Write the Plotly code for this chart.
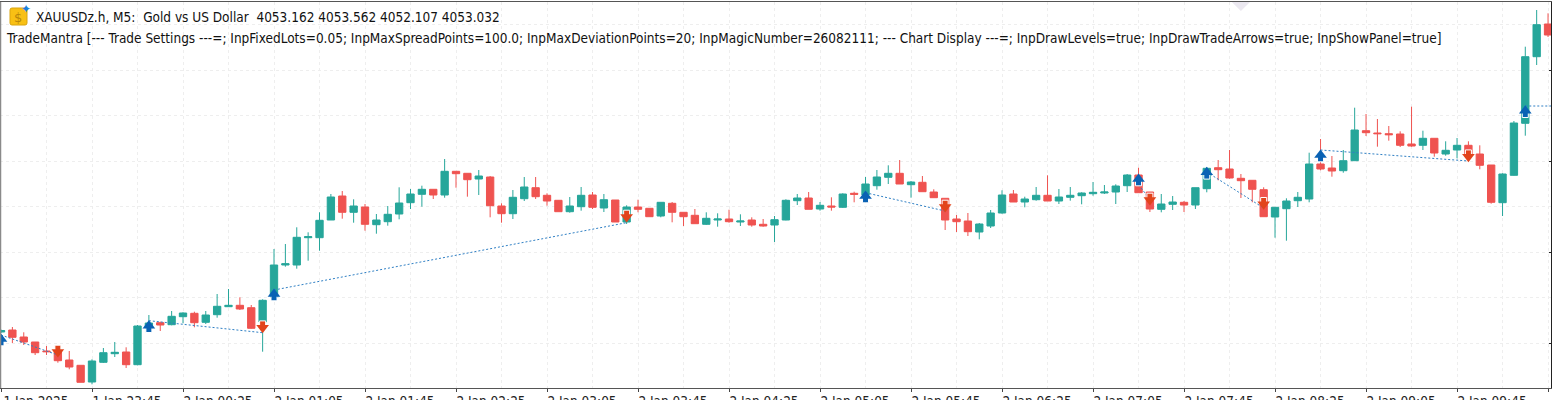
import plotly.graph_objects as go

# chart header text
symbol_line = "XAUUSDz.h, M5:  Gold vs US Dollar  4053.162 4053.562 4052.107 4053.032"
ea_line = ("TradeMantra [--- Trade Settings ---=; InpFixedLots=0.05; InpMaxSpreadPoints=100.0; "
           "InpMaxDeviationPoints=20; InpMagicNumber=26082111; --- Chart Display ---=; "
           "InpDrawLevels=true; InpDrawTradeArrows=true; InpShowPanel=true]")

# M5 candles
opens = [4006.8, 4007.0, 4006.3, 4005.8, 4004.9, 4004.83, 4004.0, 4003.47, 4001.8, 4003.77,
         4004.63, 4004.8, 4003.53, 4007.2, 4007.73, 4007.53, 4008.33, 4008.67, 4007.77, 4008.53,
         4009.33, 4009.47, 4009.23, 4007.8, 4010.3, 4013.5, 4013.5, 4016.23, 4016.23, 4018.0,
         4020.4, 4018.77, 4019.3, 4017.53, 4017.83, 4018.6, 4019.73, 4020.57, 4021.07, 4020.5,
         4022.87, 4022.67, 4022.1, 4022.3, 4019.4, 4018.63, 4020.13, 4021.23, 4020.47, 4019.97,
         4018.83, 4019.33, 4020.5, 4019.2, 4020.0, 4017.8, 4019.3, 4019.17, 4018.4, 4019.67,
         4018.77, 4018.47, 4017.57, 4018.0, 4018.1, 4017.8, 4018.0, 4017.57, 4017.5, 4018.0,
         4019.93, 4020.2, 4019.1, 4019.4, 4019.27, 4020.67, 4020.5, 4021.43, 4022.27, 4022.67,
         4021.53, 4021.77, 4020.8, 4020.17, 4018.1, 4017.9, 4016.8, 4017.4, 4018.7, 4020.6,
         4019.8, 4020.03, 4020.47, 4019.9, 4020.27, 4020.43, 4020.63, 4020.7, 4020.8, 4021.43,
         4022.5, 4020.8, 4019.07, 4019.57, 4019.77, 4019.5, 4021.13, 4023.23, 4023.1, 4022.17,
         4021.97, 4021.03, 4018.3, 4019.13, 4019.93, 4020.1, 4023.6, 4023.2, 4022.93, 4023.93,
         4026.93, 4026.7, 4026.63, 4026.6, 4025.6, 4025.47, 4026.17, 4024.6, 4025.0, 4025.47,
         4024.6, 4023.5, 4019.73, 4022.47, 4027.67, 4034.33, 4037.6]
highs = [4007.05, 4007.3, 4006.77, 4005.8, 4005.4, 4005.3, 4004.9, 4003.47, 4004.07, 4005.2,
         4005.8, 4005.27, 4007.5, 4008.5, 4007.83, 4008.9, 4008.77, 4008.83, 4008.9, 4010.6,
         4011.1, 4010.27, 4009.5, 4010.07, 4015.1, 4015.6, 4017.27, 4016.77, 4018.77, 4020.6,
         4020.9, 4020.07, 4019.6, 4018.6, 4019.4, 4021.27, 4021.1, 4021.43, 4021.07, 4024.1,
         4022.87, 4022.67, 4023.0, 4022.4, 4019.67, 4021.0, 4022.3, 4022.3, 4020.67, 4020.0,
         4020.3, 4021.3, 4020.8, 4020.6, 4020.0, 4019.47, 4020.03, 4019.17, 4019.77, 4019.8,
         4018.77, 4019.1, 4018.77, 4018.67, 4019.03, 4018.57, 4018.27, 4018.1, 4018.4, 4020.07,
         4020.6, 4020.8, 4019.8, 4020.27, 4020.67, 4020.83, 4022.3, 4023.0, 4023.47, 4024.0,
         4021.9, 4022.4, 4021.07, 4020.17, 4018.5, 4018.7, 4017.7, 4019.0, 4020.97, 4021.0,
         4020.33, 4021.3, 4022.47, 4021.1, 4021.3, 4020.77, 4021.8, 4021.5, 4021.57, 4022.6,
         4023.23, 4020.8, 4020.6, 4020.4, 4019.9, 4021.23, 4023.27, 4024.0, 4025.0, 4022.6,
         4021.97, 4021.27, 4019.27, 4020.17, 4020.8, 4024.73, 4026.1, 4024.4, 4025.0, 4029.23,
         4028.6, 4028.1, 4027.4, 4026.87, 4029.33, 4026.93, 4026.17, 4025.87, 4026.2, 4025.87,
         4025.47, 4023.5, 4022.67, 4027.9, 4035.33, 4039.0, 4038.67]
lows = [4006.7, 4005.7, 4005.5, 4004.5, 4004.5, 4003.73, 4003.07, 4001.77, 4001.57, 4003.7,
        4004.3, 4003.2, 4003.47, 4006.9, 4006.9, 4007.47, 4007.67, 4007.27, 4007.6, 4008.23,
        4009.3, 4009.0, 4007.13, 4004.83, 4010.0, 4013.33, 4013.13, 4013.93, 4014.93, 4018.0,
        4018.13, 4017.73, 4016.93, 4016.63, 4017.43, 4018.07, 4019.1, 4019.33, 4020.1, 4020.23,
        4021.23, 4020.33, 4020.5, 4018.27, 4017.73, 4018.1, 4019.9, 4020.1, 4019.43, 4018.83,
        4018.73, 4018.93, 4019.1, 4018.8, 4017.8, 4017.6, 4018.77, 4018.33, 4018.27, 4017.77,
        4017.4, 4017.63, 4017.5, 4017.33, 4017.73, 4017.4, 4017.33, 4017.33, 4015.8, 4017.97,
        4019.5, 4019.07, 4018.93, 4018.93, 4019.2, 4019.77, 4019.7, 4021.03, 4021.6, 4021.6,
        4020.23, 4020.83, 4020.23, 4017.0, 4016.8, 4016.4, 4016.07, 4017.2, 4018.63, 4019.8,
        4019.27, 4019.93, 4019.9, 4019.6, 4019.93, 4019.57, 4020.43, 4020.6, 4019.6, 4020.8,
        4020.73, 4018.8, 4018.77, 4019.0, 4018.8, 4019.1, 4020.77, 4021.97, 4022.13, 4020.2,
        4019.77, 4018.33, 4016.23, 4015.93, 4019.3, 4019.77, 4022.97, 4022.33, 4022.73, 4023.93,
        4026.4, 4025.33, 4025.93, 4025.3, 4025.33, 4025.0, 4024.33, 4024.43, 4024.17, 4024.2,
        4023.07, 4019.63, 4018.4, 4022.43, 4026.43, 4033.5, 4036.3]
closes = [4006.95, 4006.27, 4005.8, 4004.73, 4004.83, 4003.93, 4003.3, 4001.77, 4003.9, 4004.73,
          4004.77, 4003.53, 4007.4, 4007.7, 4007.5, 4008.37, 4008.7, 4007.73, 4008.5, 4009.37,
          4009.47, 4009.1, 4007.17, 4009.97, 4013.5, 4013.63, 4016.27, 4016.33, 4017.97, 4020.3,
          4018.77, 4019.4, 4017.57, 4018.0, 4018.57, 4019.7, 4020.6, 4021.07, 4020.5, 4022.87,
          4022.63, 4022.03, 4022.4, 4019.43, 4018.63, 4020.27, 4021.3, 4020.33, 4019.9, 4018.83,
          4019.4, 4020.47, 4019.27, 4020.03, 4017.8, 4019.3, 4019.07, 4018.33, 4019.77, 4018.77,
          4018.33, 4017.63, 4018.17, 4018.1, 4017.83, 4017.9, 4017.5, 4017.4, 4018.03, 4019.97,
          4020.2, 4019.07, 4019.47, 4019.3, 4020.6, 4020.57, 4021.6, 4022.3, 4022.67, 4021.6,
          4021.8, 4020.83, 4020.23, 4018.0, 4017.83, 4016.83, 4017.6, 4018.7, 4020.5, 4019.8,
          4020.1, 4020.47, 4019.9, 4020.3, 4020.47, 4020.7, 4020.77, 4020.8, 4021.4, 4022.5,
          4020.73, 4019.1, 4019.6, 4019.8, 4019.5, 4021.23, 4023.17, 4023.03, 4022.2, 4021.93,
          4021.07, 4018.33, 4019.27, 4019.9, 4020.27, 4023.6, 4023.1, 4022.9, 4023.93, 4027.0,
          4026.73, 4026.63, 4026.53, 4025.47, 4025.4, 4026.17, 4024.7, 4024.97, 4025.47, 4024.4,
          4023.47, 4019.77, 4022.6, 4027.7, 4034.33, 4037.53, 4036.5]
bars = list(range(len(opens)))

# time axis
tick_bars = list(range(0, 137, 8))
tick_labels = ["1 Jan 2025", "1 Jan 23:45", "2 Jan 00:25", "2 Jan 01:05", "2 Jan 01:45", "2 Jan 02:25",
               "2 Jan 03:05", "2 Jan 03:45", "2 Jan 04:25", "2 Jan 05:05", "2 Jan 05:45", "2 Jan 06:25",
               "2 Jan 07:05", "2 Jan 07:45", "2 Jan 08:25", "2 Jan 09:05", "2 Jan 09:45", "2 Jan 10:25"]
price_ticks = [4033.0, 4023.9, 4014.8, 4005.7]

# trades: arrows and the dotted entry/exit lines
buy_bars = [0, 13, 24, 76, 100, 106, 116, 134]
buy_prices = [4006.0, 4007.33, 4010.5, 4020.3, 4022.0, 4022.67, 4024.4, 4028.83]
sell_bars = [5, 23, 55, 83, 101, 111, 129]
sell_prices = [4004.9, 4007.33, 4018.4, 4019.4, 4020.1, 4019.67, 4024.43]
trade_bars = [0, 5, None, 13, 23, None, 24, 55, None, 76, 83, None, 100, 101, None, 106, 111, None, 116, 129, None, 134, 137]
trade_prices = [4006.5, 4004.5, None, 4007.93, 4006.73, None, 4011.0, 4017.73, None, 4020.73, 4018.9, None,
                4021.5, 4020.1, None, 4022.8, 4019.2, None, 4025.0, 4023.9, None, 4029.4, 4029.4]

W, H = 1552, 400
FONT = "DejaVu Sans Condensed"
TEXT_SIZE = 13.5
TEAL = "#26a69a"
RED = "#ef5350"
BLUE = "#0a62b4"
ORANGE = "#e2441c"
GRID = "#eeeeee"


# header furniture is placed in page pixels
def px(x):
    return x / 1551


def py(y):
    return (388 - y) / 386


fig = go.Figure()

fig.add_trace(go.Scatter(x=[109], y=[4039.8], mode="markers", hoverinfo="skip",
                         marker=dict(symbol="diamond", size=14, color="#ebe8f0")))

# empty box trace so that layout.boxgap is honoured for the candles
fig.add_trace(go.Box(x=[], y=[], hoverinfo="skip"))

fig.add_trace(go.Candlestick(
    x=bars, open=opens, high=highs, low=lows, close=closes,
    whiskerwidth=0,
    increasing=dict(line=dict(color=TEAL, width=1), fillcolor=TEAL),
    decreasing=dict(line=dict(color=RED, width=1), fillcolor=RED),
))

fig.add_trace(go.Scatter(x=trade_bars, y=trade_prices, mode="lines", connectgaps=False, hoverinfo="skip",
                         line=dict(color="#2f7fc4", width=1, dash="2px,2px")))

# arrow = triangle head + square stem
fig.add_trace(go.Scatter(x=buy_bars, y=[p - 0.28 for p in buy_prices], mode="markers", hoverinfo="skip",
                         marker=dict(symbol="square", size=6, color=BLUE, line=dict(color="white", width=1))))
fig.add_trace(go.Scatter(x=buy_bars, y=[p + 0.1 for p in buy_prices], mode="markers", hoverinfo="skip",
                         marker=dict(symbol="triangle-up", size=11, color=BLUE, line=dict(width=0))))
fig.add_trace(go.Scatter(x=sell_bars, y=[p + 0.28 for p in sell_prices], mode="markers", hoverinfo="skip",
                         marker=dict(symbol="square", size=6, color=ORANGE, line=dict(color="white", width=1))))
fig.add_trace(go.Scatter(x=sell_bars, y=[p - 0.1 for p in sell_prices], mode="markers", hoverinfo="skip",
                         marker=dict(symbol="triangle-down", size=11, color=ORANGE, line=dict(width=0))))

fig.update_layout(
    width=W, height=H,
    margin=dict(l=0, r=1, t=2, b=12),
    paper_bgcolor="white", plot_bgcolor="white",
    showlegend=False,
    boxgap=0.08,
    font=dict(family=FONT, size=12, color="#222222"),
)

fig.update_xaxes(
    range=[-0.0879, 136.26],
    automargin=False,
    rangeslider_visible=False,
    tickmode="array", tickvals=tick_bars, ticktext=tick_labels,
    ticks="outside", ticklen=3, tickcolor="#444444", tickwidth=1,
    ticklabelshift=35, ticklabelstandoff=-2,
    tickfont=dict(family=FONT, size=TEXT_SIZE, color="#222222"),
    showgrid=True, gridcolor=GRID, griddash="dot", gridwidth=1,
    minor=dict(dtick=4, tick0=0, showgrid=True, gridcolor=GRID, griddash="dot", gridwidth=1, ticks=""),
    showline=True, linecolor="#555555", linewidth=1, mirror=True,
    zeroline=False,
)
fig.update_yaxes(
    range=[4001.2, 4039.8],
    automargin=False,
    side="right",
    tickmode="array", tickvals=price_ticks,
    ticks="inside", ticklen=2, tickcolor="#222222",
    showticklabels=False,
    showgrid=True, gridcolor=GRID, griddash="dot", gridwidth=1,
    minor=dict(dtick=4.55, tick0=4005.7, showgrid=True, gridcolor=GRID, griddash="dot", gridwidth=1, ticks=""),
    showline=True, linecolor="#222222", linewidth=1,
    zeroline=False,
)

# left frame edge and the gold symbol icon
x0, x1, y0, y1 = 10, 27, 8, 25
icon = (f"M {px(x0 + 2)} {py(y0)} L {px(x1 - 2)} {py(y0)} Q {px(x1)} {py(y0)} {px(x1)} {py(y0 + 2)} "
        f"L {px(x1)} {py(y1 - 2)} Q {px(x1)} {py(y1)} {px(x1 - 2)} {py(y1)} L {px(x0 + 2)} {py(y1)} "
        f"Q {px(x0)} {py(y1)} {px(x0)} {py(y1 - 2)} L {px(x0)} {py(y0 + 2)} Q {px(x0)} {py(y0)} {px(x0 + 2)} {py(y0)} Z")
fig.add_shape(type="path", path=icon, xref="paper", yref="paper", fillcolor="#f8c014",
              line=dict(color="#d9a40e", width=1), layer="above")
fig.add_shape(type="line", xref="paper", yref="paper", x0=px(0.5), x1=px(0.5), y0=0, y1=1,
              line=dict(color="#8a8a8a", width=1.5), layer="above")

fig.add_annotation(x=px(18), y=py(17), xref="paper", yref="paper", text="$", showarrow=False,
                   xanchor="center", yanchor="middle",
                   font=dict(family="DejaVu Sans", size=13, color="#b8860b"))
fig.add_annotation(x=px(26), y=py(9), xref="paper", yref="paper", text="✦", showarrow=False,
                   xanchor="center", yanchor="middle",
                   font=dict(family="DejaVu Sans", size=12, color="#1e7fd8"))
fig.add_annotation(x=px(34), y=py(16.5), xref="paper", yref="paper", text=symbol_line, showarrow=False,
                   xanchor="left", yanchor="middle", font=dict(family=FONT, size=TEXT_SIZE, color="#111111"))
fig.add_annotation(x=px(4), y=py(37.5), xref="paper", yref="paper", text=ea_line, showarrow=False,
                   xanchor="left", yanchor="middle", font=dict(family=FONT, size=TEXT_SIZE, color="#111111"))

fig.write_html("out.html", config=dict(displayModeBar=False),
               post_script="document.body.style.margin='0';document.body.style.overflow='hidden';")
